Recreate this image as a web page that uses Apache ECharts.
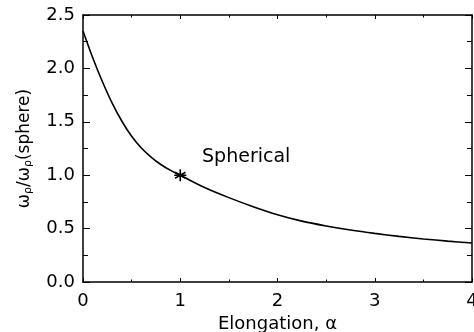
<!DOCTYPE html>
<html><head><meta charset="utf-8">
<script src="https://cdn.jsdelivr.net/npm/echarts@6/dist/echarts.min.js"></script>
<style>html,body{margin:0;padding:0;background:#fff}#c{width:474px;height:332px}</style>
</head><body><div id="c"></div>
<script>
const alpha = [0, 0.1, 0.2, 0.3, 0.4, 0.5, 0.6, 0.7, 0.8, 0.9, 1.0, 1.25, 1.5, 1.75, 2.0, 2.25, 2.5, 2.75, 3.0, 3.25, 3.5, 3.75, 4.0];
const ratio = [2.35, 2.10, 1.875, 1.675, 1.505, 1.365, 1.255, 1.17, 1.10, 1.045, 1.0, 0.885, 0.79, 0.705, 0.63, 0.57, 0.525, 0.487, 0.455, 0.427, 0.403, 0.383, 0.365];
const markerPoint = [[1.0, 1.0]];
const markerLabel = 'Spherical';
const xTitle = 'Elongation, α';

const F = 'DejaVu Sans';
const chart = echarts.init(document.getElementById('c'));
const baseAxis = {
  axisLine: {show: true, onZero: false, lineStyle: {color: '#000', width: 1.5}},
  splitLine: {show: false}
};
chart.setOption({
  animation: false,
  grid: {left: 83, right: 2, top: 15, bottom: 50, outerBoundsMode: 'none', containLabel: false},
  xAxis: [
    Object.assign({}, baseAxis, {
      type: 'value', min: 0, max: 4, interval: 1, position: 'bottom',
      axisTick: {show: true, inside: true, length: 4, lineStyle: {color: '#000', width: 1}},
      minorTick: {show: true, splitNumber: 2, length: 2.5, lineStyle: {color: '#000', width: 1}},
      axisLabel: {color: '#000', fontFamily: F, fontSize: 18, margin: 10},
      name: xTitle, nameLocation: 'middle', nameGap: 32,
      nameTextStyle: {color: '#000', fontFamily: F, fontSize: 18}
    }),
    Object.assign({}, baseAxis, {
      type: 'value', min: 0, max: 4, interval: 1, position: 'top',
      axisTick: {show: true, inside: true, length: 4, lineStyle: {color: '#000', width: 1}},
      minorTick: {show: true, splitNumber: 2, length: 2.5, lineStyle: {color: '#000', width: 1}},
      axisLabel: {show: false}
    })
  ],
  yAxis: [
    Object.assign({}, baseAxis, {
      type: 'value', min: 0, max: 2.5, interval: 0.5, position: 'left',
      axisTick: {show: true, inside: true, length: 7, lineStyle: {color: '#000', width: 1}},
      minorTick: {show: true, splitNumber: 2, length: 5, lineStyle: {color: '#000', width: 1}},
      axisLabel: {color: '#000', fontFamily: F, fontSize: 18, margin: 8, formatter: v => v.toFixed(1)},
      name: '{w|ω}{s|ρ}{w|/ω}{s|ρ}{w|(sphere)}', nameLocation: 'middle', nameGap: 49, nameRotate: 90,
      nameTextStyle: {color: '#000', fontFamily: F, fontSize: 17,
        rich: {w: {fontFamily: F, fontSize: 17, color: '#000'},
               s: {fontFamily: F, fontSize: 11, color: '#000', verticalAlign: 'bottom', padding: [8, 0, 0, 0]}}}
    }),
    Object.assign({}, baseAxis, {
      type: 'value', min: 0, max: 2.5, interval: 0.5, position: 'right',
      axisTick: {show: true, inside: true, length: 7, lineStyle: {color: '#000', width: 1}},
      minorTick: {show: true, splitNumber: 2, length: 5, lineStyle: {color: '#000', width: 1}},
      axisLabel: {show: false}
    })
  ],
  series: [
    {type: 'line', data: alpha.map((a, i) => [a, ratio[i]]), smooth: 0.3, showSymbol: false,
     lineStyle: {color: '#000', width: 1.6}},
    {type: 'scatter', data: markerPoint, z: 5,
     symbol: 'path://M5,0 L5,10 M0.67,2.5 L9.33,7.5 M0.67,7.5 L9.33,2.5 M0,5 L10,5',
     symbolSize: 12,
     itemStyle: {color: 'transparent', borderColor: '#000', borderWidth: 1.6, opacity: 1},
     label: {show: true, position: 'right', offset: [10, -18], formatter: markerLabel,
             color: '#000', fontFamily: F, fontSize: 19, opacity: 1}}
  ]
});
</script></body></html>
